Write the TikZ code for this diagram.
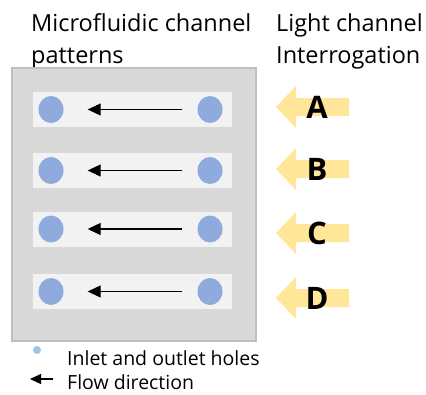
\documentclass[tikz,border=0pt]{standalone}
\usepackage{fontspec}
\setmainfont{Open Sans}
\usetikzlibrary{arrows.meta,positioning,shapes.geometric}
\definecolor{chipgray}{HTML}{D9D9D9}
\definecolor{chipedge}{HTML}{BFBFBF}
\definecolor{chanfill}{HTML}{F2F2F2}
\definecolor{holeblue}{HTML}{8FAADC}
\definecolor{dotblue}{HTML}{9DC3E6}
\definecolor{lightyel}{HTML}{FFE699}
\newcommand{\probearrow}[1]{\fill[lightyel] (276,#1) -- (296,#1-21) -- (296,#1-9) -- (349,#1-9) -- (349,#1+9) -- (296,#1+9) -- (296,#1+21) -- cycle;}

\begin{document}
\begin{tikzpicture}[x=1pt,y=-1pt,>={Triangle[length=13pt,width=12pt]},
  chip/.style={rectangle,draw=chipedge,fill=chipgray,line width=1.5pt,minimum width=244pt,minimum height=273pt,inner sep=0pt},
  chan/.style={rectangle,fill=chanfill,minimum width=199pt,minimum height=35pt,inner sep=0pt},
  hole/.style={ellipse,fill=holeblue,minimum width=25pt,minimum height=27pt,inner sep=0pt},
  flow/.style={->,line width=1.1pt,shorten <=15pt,shorten >=24pt},
  title/.style={font=\fontsize{23.5}{32}\selectfont,align=left,anchor=base west,inner sep=0pt},
  probelabel/.style={font=\bfseries\fontsize{31}{36}\selectfont,inner sep=0pt},
  legend/.style={font=\fontsize{19.5}{22}\selectfont,anchor=base west,inner sep=0pt}]
\useasboundingbox (0,0) rectangle (426,394);
\newcommand*{\ra}{109.5}; \newcommand*{\rb}{170.5}; \newcommand*{\rc}{229}; \newcommand*{\rd}{291.5};
% titles
\node[title] (mfTitle) at (31,63) {Microfluidic channel\\patterns};
\node[title] (lcTitle) at (276,63) {Light channel\\Interrogation};
% chip with channels
\node[chip] (chip) at (134,204.5) {};
\node[chan] (chA) at (132.5,\ra) {};
\node[chan] (chB) at (132.5,\rb) {};
\node[chan] (chC) at (132.5,\rc) {};
\node[chan] (chD) at (132.5,\rd) {};
\node[hole] (outA) at (51,\ra) {};
\node[hole] (inA) at (210,\ra) {};
\node[hole] (outB) at (51,\rb) {};
\node[hole] (inB) at (210,\rb) {};
\node[hole] (outC) at (51,\rc) {};
\node[hole] (inC) at (210,\rc) {};
\node[hole] (outD) at (51,\rd) {};
\node[hole] (inD) at (210,\rd) {};
\draw[flow] (inA) to (outA);
\draw[flow] (inB) to (outB);
\draw[flow] (inC) to (outC);
\draw[flow] (inD) to (outD);
% light interrogation arrows
\probearrow{107} \probearrow{169} \probearrow{233} \probearrow{298}
\node[probelabel] (labA) at (317,107) {A};
\node[probelabel] (labB) at (317,169) {B};
\node[probelabel] (labC) at (317,233) {C};
\node[probelabel] (labD) at (317,298) {D};
% legend
\node[circle,fill=dotblue,minimum size=8pt,inner sep=0pt] (legDot) at (37,350) {};
\node[legend] (legHoles) at (67,365) {Inlet and outlet holes};
\coordinate (legTail) at (53,379);
\coordinate (legTip) at (30,379);
\draw[-{Triangle[length=11pt,width=10pt]},line width=1.1pt] (legTail) to (legTip);
\node[legend] (legFlow) at (67,389) {Flow direction};
\end{tikzpicture}
\end{document}
